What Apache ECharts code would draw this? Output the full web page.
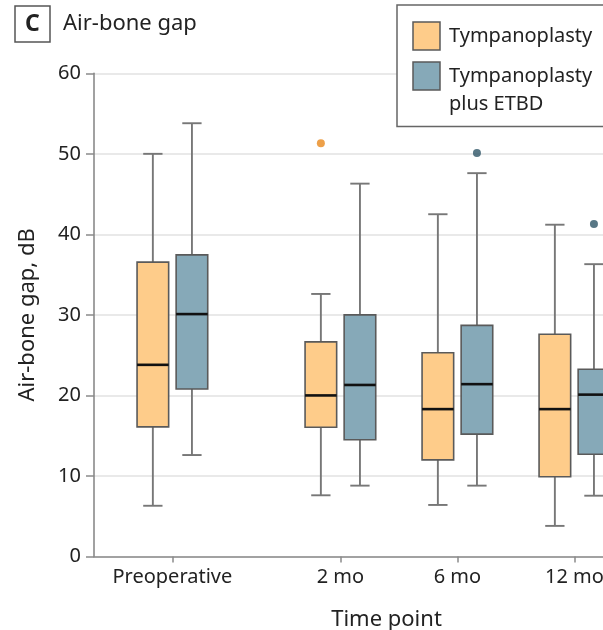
<!DOCTYPE html>
<html>
<head>
<meta charset="utf-8">
<script src="https://cdn.jsdelivr.net/npm/echarts@6/dist/echarts.min.js"></script>
<style>
  html, body { margin: 0; padding: 0; background: #fff; overflow: hidden; }
  #main { width: 720px; height: 630px; }
</style>
</head>
<body>
<div id="main"></div>
<script>
var timePoints = ['Preoperative', '2 mo', '6 mo', '12 mo'];
var yTicks = [0, 10, 20, 30, 40, 50, 60];

// Tympanoplasty
var tympLow = [6.3, 7.6, 6.4, 3.8];
var tympQ1 = [16.1, 16.05, 12.0, 9.9];
var tympMedian = [23.8, 20.0, 18.3, 18.3];
var tympQ3 = [36.55, 26.65, 25.3, 27.6];
var tympHigh = [50.0, 32.6, 42.5, 41.2];
var tympOutliers = [[1, 51.3]];

// Tympanoplasty plus ETBD
var etbdLow = [12.6, 8.8, 8.8, 7.55];
var etbdQ1 = [20.8, 14.5, 15.2, 12.7];
var etbdMedian = [30.1, 21.3, 21.4, 20.1];
var etbdQ3 = [37.45, 30.0, 28.7, 23.25];
var etbdHigh = [53.8, 46.3, 47.6, 36.3];
var etbdOutliers = [[2, 50.1], [3, 41.3]];

// spacing of the time points on the axis (preop gap is wider)
var slotX = [0, 1.436, 2.436, 3.436];
var OFFSET = 0.167, BOX_W = 0.27, CAP_W = 0.165;
var FONT = '"Noto Sans", sans-serif';

function boxData(low, q1, med, q3, high) {
  return timePoints.map(function (t, i) {
    return [slotX[i], low[i], q1[i], med[i], q3[i], high[i]];
  });
}

function makeRender(offset, fill) {
  return function (params, api) {
    var x = api.value(0) + offset;
    var pLow = api.coord([x, api.value(1)]);
    var pQ1 = api.coord([x, api.value(2)]);
    var pMed = api.coord([x, api.value(3)]);
    var pQ3 = api.coord([x, api.value(4)]);
    var pHigh = api.coord([x, api.value(5)]);
    var hw = api.size([BOX_W, 0])[0] / 2;
    var cw = api.size([CAP_W, 0])[0] / 2;
    var cx = pMed[0];
    var wStyle = { stroke: '#777', lineWidth: 1.9 };
    return {
      type: 'group',
      children: [
        { type: 'line', shape: { x1: cx, y1: pHigh[1], x2: cx, y2: pQ3[1] }, style: wStyle },
        { type: 'line', shape: { x1: cx, y1: pQ1[1], x2: cx, y2: pLow[1] }, style: wStyle },
        { type: 'line', shape: { x1: cx - cw, y1: pHigh[1], x2: cx + cw, y2: pHigh[1] }, style: wStyle },
        { type: 'line', shape: { x1: cx - cw, y1: pLow[1], x2: cx + cw, y2: pLow[1] }, style: wStyle },
        { type: 'rect', shape: { x: cx - hw, y: pQ3[1], width: hw * 2, height: pQ1[1] - pQ3[1] },
          style: { fill: fill, stroke: '#5a5a5a', lineWidth: 1.6 } },
        { type: 'line', shape: { x1: cx - hw, y1: pMed[1], x2: cx + hw, y2: pMed[1] },
          style: { stroke: '#111', lineWidth: 2.6 } }
      ]
    };
  };
}

function outlierData(list, offset) {
  return list.map(function (o) { return [slotX[o[0]] + offset, o[1]]; });
}

var chart = echarts.init(document.getElementById('main'));
var option = {
  animation: false,
  grid: { left: 94, top: 73.3, width: 585, height: 483.2, outerBoundsMode: 'none' },
  xAxis: {
    type: 'value',
    min: -0.67,
    max: 4.33,
    name: 'Time point',
    nameLocation: 'middle',
    nameGap: 52,
    nameTextStyle: { fontFamily: FONT, fontSize: 22, color: '#222' },
    axisLine: { onZero: false, lineStyle: { color: '#8a8a8a', width: 1.6 } },
    axisTick: { show: true, length: 6, customValues: slotX, lineStyle: { color: '#8a8a8a', width: 1.5 } },
    axisLabel: {
      customValues: slotX,
      margin: 11,
      fontFamily: FONT, fontSize: 20, color: '#222',
      formatter: function (v) {
        var best = 0;
        slotX.forEach(function (s, i) { if (Math.abs(s - v) < Math.abs(slotX[best] - v)) best = i; });
        return timePoints[best];
      }
    },
    splitLine: { show: false }
  },
  yAxis: {
    type: 'value',
    min: 0,
    max: 60,
    interval: 10,
    name: 'Air-bone gap, dB',
    nameLocation: 'middle',
    nameRotate: 90,
    nameGap: 55,
    nameTextStyle: { fontFamily: FONT, fontSize: 22, color: '#222' },
    axisLine: { show: true, onZero: false, lineStyle: { color: '#8a8a8a', width: 1.6 } },
    axisTick: { show: true, length: 8, lineStyle: { color: '#8a8a8a', width: 1.5 } },
    axisLabel: {
      margin: 13, fontFamily: FONT, fontSize: 20, color: '#222',
      formatter: function (v) { return yTicks.indexOf(v) >= 0 ? String(v) : ''; }
    },
    splitLine: { lineStyle: { color: '#e2e2e2', width: 1.6 } }
  },
  graphic: [
    { type: 'rect', z: 100, shape: { x: 15, y: 6, width: 35, height: 36 },
      style: { fill: '#fff', stroke: '#555', lineWidth: 1.5 } },
    { type: 'text', z: 101, x: 32.5, y: 24.5,
      style: { text: 'C', fontFamily: FONT, fontWeight: 'bold', fontSize: 23, fill: '#222',
        align: 'center', verticalAlign: 'middle' } },
    { type: 'text', z: 101, x: 63, y: 24,
      style: { text: 'Air-bone gap', fontFamily: FONT, fontSize: 22, fill: '#222',
        align: 'left', verticalAlign: 'middle' } },
    // legend
    { type: 'rect', z: 100, shape: { x: 397, y: 5, width: 260, height: 121.5 },
      style: { fill: '#fff', stroke: '#666', lineWidth: 1.5 } },
    { type: 'rect', z: 101, shape: { x: 413, y: 22, width: 27, height: 28 },
      style: { fill: '#fecc8a', stroke: '#5a5a5a', lineWidth: 1.5 } },
    { type: 'rect', z: 101, shape: { x: 413, y: 62, width: 27, height: 28 },
      style: { fill: '#86a9b8', stroke: '#5a5a5a', lineWidth: 1.5 } },
    { type: 'text', z: 101, x: 449, y: 36,
      style: { text: 'Tympanoplasty', fontFamily: FONT, fontSize: 20, fill: '#222', verticalAlign: 'middle' } },
    { type: 'text', z: 101, x: 449, y: 76,
      style: { text: 'Tympanoplasty', fontFamily: FONT, fontSize: 20, fill: '#222', verticalAlign: 'middle' } },
    { type: 'text', z: 101, x: 449, y: 104,
      style: { text: 'plus ETBD', fontFamily: FONT, fontSize: 20, fill: '#222', verticalAlign: 'middle' } }
  ],
  series: [
    {
      name: 'Tympanoplasty',
      type: 'custom',
      renderItem: makeRender(-OFFSET, '#fecc8a'),
      encode: { x: 0, y: [1, 2, 3, 4, 5] },
      data: boxData(tympLow, tympQ1, tympMedian, tympQ3, tympHigh)
    },
    {
      name: 'Tympanoplasty plus ETBD',
      type: 'custom',
      renderItem: makeRender(OFFSET, '#86a9b8'),
      encode: { x: 0, y: [1, 2, 3, 4, 5] },
      data: boxData(etbdLow, etbdQ1, etbdMedian, etbdQ3, etbdHigh)
    },
    {
      type: 'scatter', symbolSize: 8,
      itemStyle: { color: '#e8881c' },
      data: outlierData(tympOutliers, -OFFSET)
    },
    {
      type: 'scatter', symbolSize: 8,
      itemStyle: { color: '#2e5566' },
      data: outlierData(etbdOutliers, OFFSET)
    }
  ]
};
chart.setOption(option);
</script>
</body>
</html>
